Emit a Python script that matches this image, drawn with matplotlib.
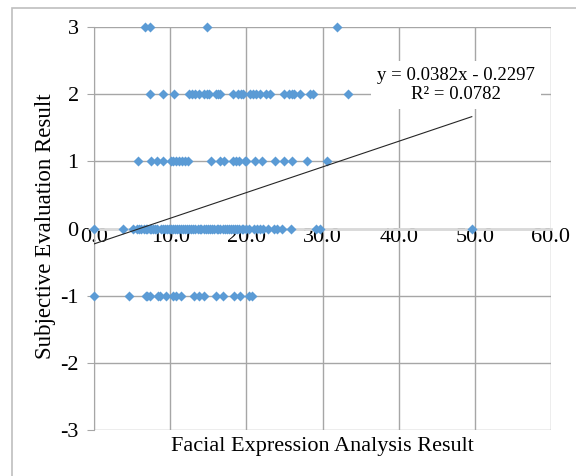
import numpy as np
import matplotlib
matplotlib.use("Agg")
import matplotlib.pyplot as plt
from matplotlib.patches import Rectangle

plt.rcParams["font.family"] = ["Liberation Serif", "DejaVu Serif"]
plt.rcParams["axes.unicode_minus"] = False

# data: x = facial expression score, y = subjective score
x_pos3 = [6.7, 7.4, 14.9, 31.9]
x_pos2 = [7.3, 9.1, 10.5, 12.5, 12.9, 13.3, 13.8, 14.5, 14.9, 15.1, 16.0, 16.3,
          16.6, 18.3, 18.9, 19.3, 19.6, 20.5, 20.9, 21.3, 21.8, 22.6, 23.1, 25.0,
          25.6, 26.0, 26.3, 27.1, 28.4, 28.8, 33.4]
x_pos1 = [5.8, 7.5, 8.3, 9.1, 10.1, 10.4, 10.8, 11.2, 11.5, 12.0, 12.4, 15.4,
          16.6, 17.1, 18.3, 18.7, 19.1, 19.8, 20.0, 21.2, 22.1, 23.8, 25.0, 26.0,
          27.9, 30.6]
x_zero = [0.0, 3.85, 5.07, 5.6, 5.9, 6.2, 6.5, 6.8, 7.0, 7.3, 7.5, 7.8, 8.0, 8.3,
          8.8, 9.1, 9.3, 9.6, 9.9, 10.1, 10.4, 10.6, 10.9, 11.2, 11.4, 11.7, 12.0,
          12.2, 12.5, 12.8, 13.0, 13.3, 13.6, 13.9, 14.1, 14.4, 14.7, 15.0, 15.2,
          15.5, 15.8, 16.1, 16.3, 16.6, 16.9, 17.2, 17.4, 17.7, 18.0, 18.3, 18.5,
          18.8, 19.1, 19.4, 19.6, 20.0, 20.4, 21.0, 21.4, 21.8, 22.2, 22.8, 23.6,
          24.0, 24.7, 25.9, 29.2, 29.7, 49.6]
x_neg1 = [0.0, 4.6, 6.8, 7.0, 7.3, 8.4, 8.7, 9.5, 10.4, 10.8, 11.4, 13.1, 13.8,
          14.4, 16.0, 17.0, 18.4, 19.2, 20.4, 20.7]

groups = [(3, x_pos3), (2, x_pos2), (1, x_pos1), (0, x_zero), (-1, x_neg1)]

slope = 0.0382
intercept = -0.2297
r2 = 0.0782

W, H = 576, 476
fig = plt.figure(figsize=(W / 100, H / 100), dpi=100)

# outer chart border (only left/top are inside the crop)
fig.patches.append(Rectangle((12 / W, -0.1), 1.2, 1 - 8 / H + 0.1, transform=fig.transFigure,
                             fill=False, edgecolor="#bfbfbf", linewidth=1.2))

ax = fig.add_axes([94 / W, 1 - 430 / H, (551 - 94) / W, (430 - 27) / H])

all_x, all_y = [], []
for yv, xs in groups:
    all_x += xs
    all_y += [yv] * len(xs)
all_x = np.array(all_x)
all_y = np.array(all_y)

ax.scatter(all_x, all_y, marker="D", s=26, color="#5b9bd5", linewidths=0, zorder=3,
           clip_on=False)

xt = np.array([0, all_x.max()])
ax.plot(xt, slope * xt + intercept, color="#262626", linewidth=0.8, zorder=4)

ax.set_xlim(0, 60)
ax.set_ylim(-3, 3)
ax.set_xticks(np.arange(0, 61, 10))
ax.set_yticks(np.arange(-3, 4, 1))
ax.set_xticklabels([f"{v:.1f}" for v in np.arange(0, 61, 10)])

ax.grid(True, color="#a6a6a6", linewidth=1.0, zorder=0)
ax.set_axisbelow(True)

for s in ["top", "right"]:
    ax.spines[s].set_visible(False)
ax.spines["left"].set_color("#a6a6a6")
ax.spines["bottom"].set_position(("data", 0))
ax.spines["bottom"].set_color("#d9d9d9")
ax.spines["bottom"].set_linewidth(2)
ax.spines["bottom"].set_zorder(1)

ax.tick_params(axis="y", length=5, color="#a6a6a6", labelsize=16, pad=6)
ax.tick_params(axis="x", length=0, labelsize=16, pad=0)

fig.text(322 / W, 1 - 446 / H, "Facial Expression Analysis Result", ha="center", va="center",
         fontsize=16)
fig.text(46 / W, 1 - 226 / H, "Subjective Evaluation Result", ha="center", va="center",
         rotation=90, fontsize=16.5)

ax.text(456 / W, 1 - 85 / H, f"y = {slope}x - {abs(intercept)}\nR² = {r2}",
        transform=fig.transFigure, ha="center", va="center", fontsize=13.5, linespacing=1.15,
        bbox=dict(boxstyle="square,pad=0.3", fc="white", ec="none"), zorder=5)

fig.savefig("out.png", dpi=100)
